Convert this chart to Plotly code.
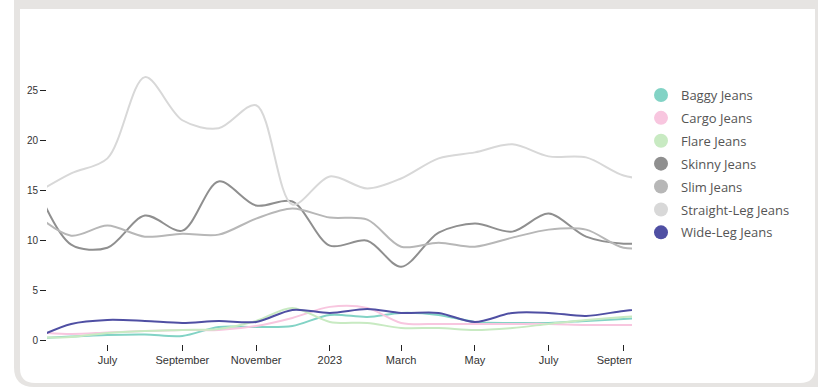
import plotly.graph_objects as go

# ---- data (monthly) ----
dates = ["2022-05-01", "2022-06-01", "2022-07-01", "2022-08-01", "2022-09-01", "2022-10-01",
         "2022-11-01", "2022-12-01", "2023-01-01", "2023-02-01", "2023-03-01", "2023-04-01",
         "2023-05-01", "2023-06-01", "2023-07-01", "2023-08-01", "2023-09-01", "2023-10-01"]

baggy = [0.25, 0.45, 0.6, 0.65, 0.5, 1.4, 1.4, 1.5, 2.6, 2.4, 2.8, 2.6, 1.9, 1.8, 1.8, 2.0, 2.2, 2.4]
cargo = [0.9, 0.7, 0.85, 1.0, 1.1, 1.1, 1.5, 2.3, 3.4, 3.3, 1.8, 1.7, 1.7, 1.7, 1.7, 1.6, 1.6, 1.6]
flare = [0.35, 0.4, 0.8, 1.0, 1.1, 1.2, 2.0, 3.3, 1.9, 1.8, 1.3, 1.3, 1.1, 1.3, 1.7, 2.1, 2.4, 2.6]
skinny = [16.0, 9.6, 9.3, 12.5, 11.0, 15.9, 13.5, 13.9, 9.5, 10.0, 7.4, 10.8, 11.7, 10.9, 12.7, 10.4, 9.7, 9.9]
slim = [12.8, 10.5, 11.5, 10.4, 10.7, 10.6, 12.2, 13.2, 12.3, 12.1, 9.4, 9.8, 9.4, 10.3, 11.1, 11.1, 9.3, 9.5]
straight = [14.6, 16.7, 18.2, 26.3, 22.0, 21.2, 23.5, 13.6, 16.4, 15.2, 16.2, 18.2, 18.8, 19.6, 18.4, 18.3, 16.5, 16.0]
wide = [0.2, 1.7, 2.1, 2.0, 1.8, 2.0, 1.9, 3.1, 2.8, 3.2, 2.8, 2.8, 1.9, 2.8, 2.8, 2.5, 3.0, 3.4]

series_names = ["Baggy Jeans", "Cargo Jeans", "Flare Jeans", "Skinny Jeans", "Slim Jeans",
                "Straight-Leg Jeans", "Wide-Leg Jeans"]
series_values = [baggy, cargo, flare, skinny, slim, straight, wide]
series_colors = ["#82d3c5", "#f8c6df", "#c8eac2", "#8f8f8f", "#b7b7b7", "#d8d8d8", "#4f4fa3"]

x_tick_vals = ["2022-07-01", "2022-09-01", "2022-11-01", "2023-01-01", "2023-03-01",
               "2023-05-01", "2023-07-01", "2023-09-01"]
x_tick_text = ["July", "September", "November", "2023", "March", "May", "July", "September"]
y_tick_vals = [0, 5, 10, 15, 20, 25]

# ---- layout geometry (pixels) ----
W, H = 818, 387
L, R, T, B = 47, 632, 40, 344


def px(x):
    return (x - L) / (R - L)


def py(y):
    return (B - y) / (B - T)


fig = go.Figure()

for name, vals, col in zip(series_names, series_values, series_colors):
    fig.add_trace(go.Scatter(
        x=dates, y=vals, mode="lines", name=name, legendgroup=name, showlegend=False,
        line=dict(color=col, width=2, shape="spline", smoothing=0.9),
        hoverinfo="x+y+name",
    ))

# legend markers (circles)
for name, col in zip(series_names, series_colors):
    fig.add_trace(go.Scatter(
        x=[None], y=[None], mode="markers", name=name, legendgroup=name,
        marker=dict(color=col, size=14, symbol="circle"),
    ))


def rounded_path(x0, y0, x1, y1, r_bl, r_br):
    p = f"M {px(x0)} {py(y0)} L {px(x1)} {py(y0)} "
    if r_br > 0:
        p += f"L {px(x1)} {py(y1 - r_br)} Q {px(x1)} {py(y1)} {px(x1 - r_br)} {py(y1)} "
    else:
        p += f"L {px(x1)} {py(y1)} "
    if r_bl > 0:
        p += f"L {px(x0 + r_bl)} {py(y1)} Q {px(x0)} {py(y1)} {px(x0)} {py(y1 - r_bl)} "
    else:
        p += f"L {px(x0)} {py(y1)} "
    p += "Z"
    return p


shapes = [
    dict(type="path", xref="paper", yref="paper", layer="below",
         path=rounded_path(14, 0, 818, 387, 20, 0), fillcolor="#e6e4e2", line=dict(width=0)),
    dict(type="path", xref="paper", yref="paper", layer="below",
         path=rounded_path(20, 9, 815, 383, 15, 15), fillcolor="#ffffff", line=dict(width=0)),
    # clip the last tick label at the plot edge like the reference
    dict(type="rect", xref="paper", yref="paper", layer="above",
         x0=px(632), x1=px(660), y0=py(368), y1=py(351), fillcolor="#ffffff", line=dict(width=0)),
]

fig.update_layout(
    width=W, height=H,
    margin=dict(l=L, r=W - R, t=T, b=H - B, pad=0),
    paper_bgcolor="#ffffff",
    plot_bgcolor="rgba(0,0,0,0)",
    shapes=shapes,
    showlegend=True,
    legend=dict(
        x=px(641), y=py(80), xanchor="left", yanchor="top",
        font=dict(family="Open Sans", size=13, color="#555555"),
        bgcolor="rgba(0,0,0,0)", tracegroupgap=3,
    ),
    xaxis=dict(
        type="date", range=["2022-05-12", "2023-09-08"],
        tickvals=x_tick_vals, ticktext=x_tick_text,
        showgrid=False, zeroline=False, showline=False,
        ticks="outside", ticklen=6, tickwidth=1, tickcolor="#222222",
        tickfont=dict(family="Arial", size=11, color="#333333"),
    ),
    yaxis=dict(
        range=[-0.3, 30], tickvals=y_tick_vals,
        showgrid=False, zeroline=False, showline=False,
        ticks="outside", ticklen=6, tickwidth=1, tickcolor="#222222",
        tickfont=dict(family="Arial", size=10, color="#333333"),
    ),
)

fig.write_html("out.html")
